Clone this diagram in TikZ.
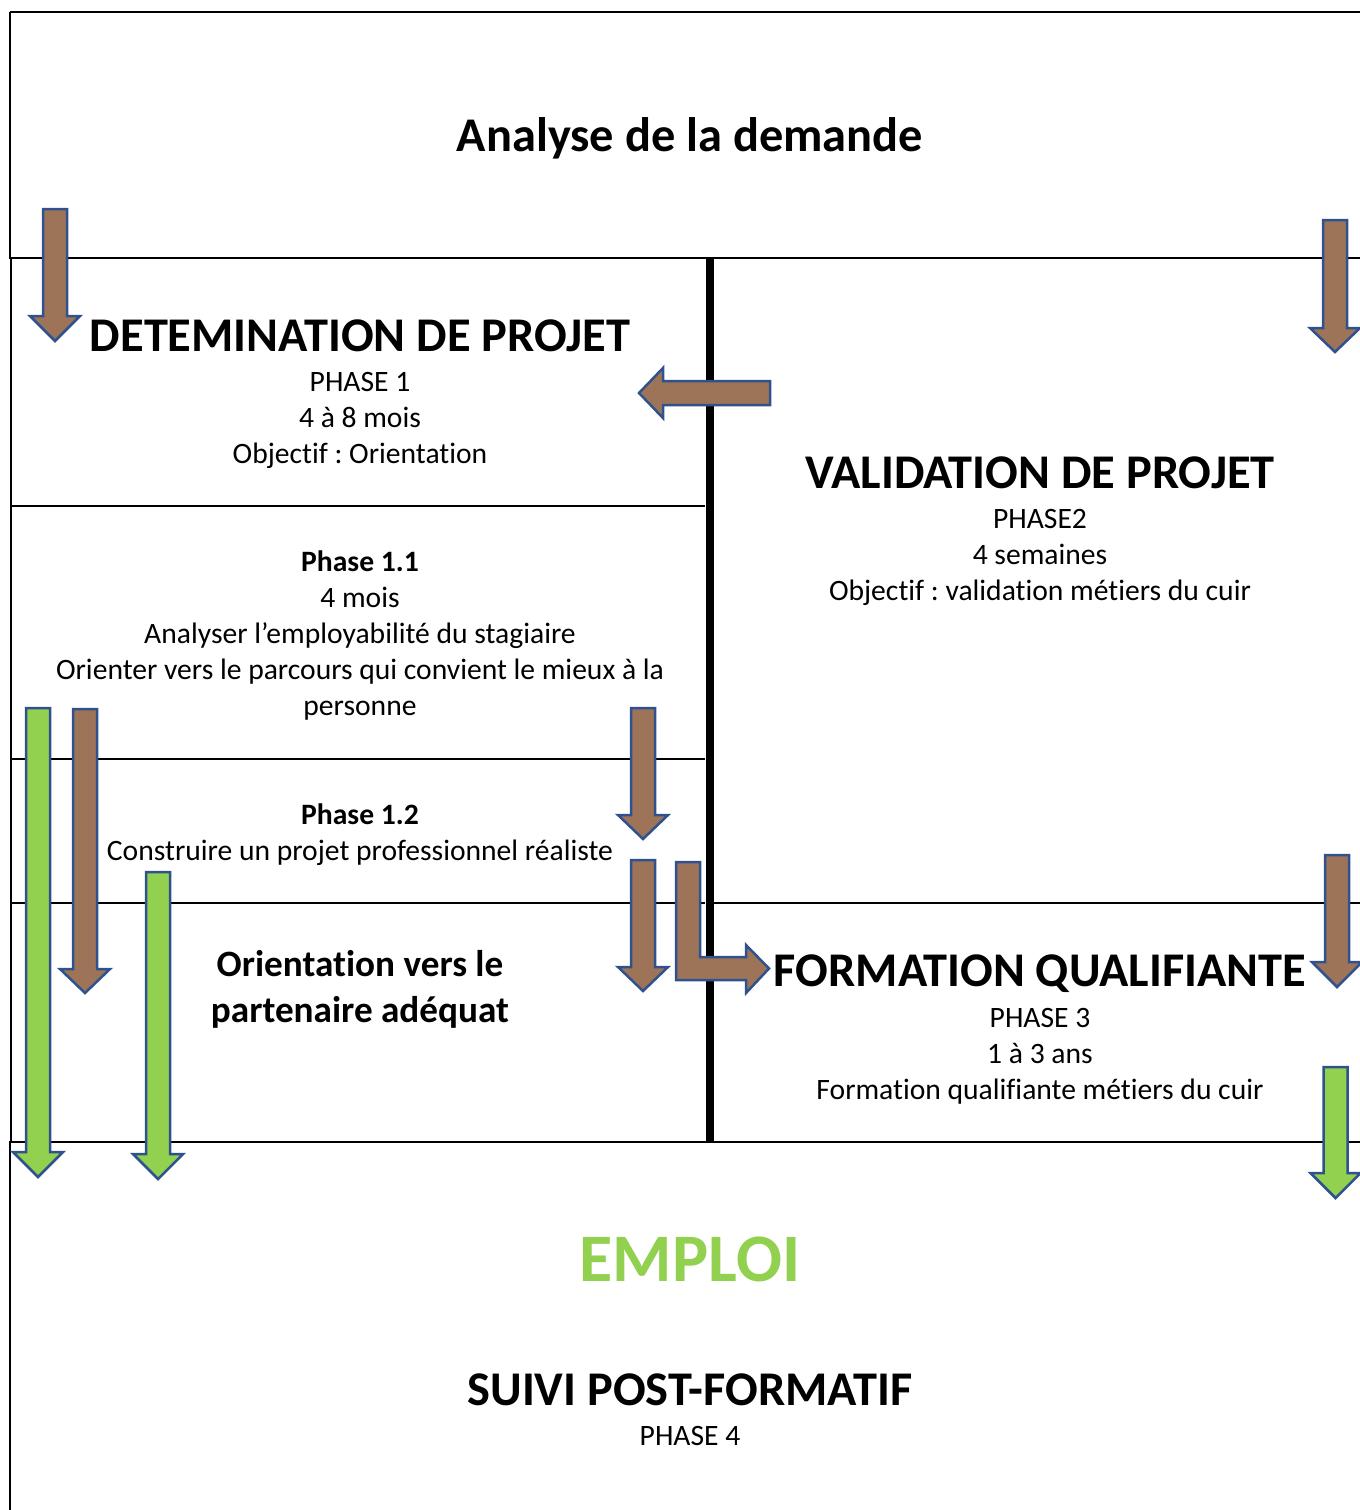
\documentclass[tikz,border=0pt]{standalone}
\usepackage{fontspec}
\setmainfont{Carlito}[Ligatures=NoCommon]
\frenchspacing
\definecolor{brownfill}{RGB}{157,116,87}
\definecolor{blueline}{RGB}{47,82,143}
\definecolor{greenfill}{RGB}{146,208,80}
\newcommand\barrowdown[5]{% cx, top, headbase, tip, style
  \draw[#5] ({#1-12},#2) -- ({#1+12},#2) -- ({#1+12},#3) -- ({#1+25},#3) -- (#1,#4)
    -- ({#1-25},#3) -- ({#1-12},#3) -- cycle;}
\tikzset{
  brownarrow/.style={fill=brownfill, draw=blueline, line width=1.25pt, line join=miter},
  greenarrow/.style={fill=greenfill, draw=blueline, line width=1.25pt, line join=miter},
  thickline/.style={line width=1pt, black},
  thinline/.style={line width=0.6pt, black},
  normaltext/.style={anchor=base, inner sep=0pt, font=\fontsize{14.8}{18}\selectfont},
  boldtext/.style={normaltext, font=\fontsize{14.8}{18}\selectfont\bfseries},
  headtext/.style={anchor=base, inner sep=0pt, font=\fontsize{24.2}{29}\selectfont\bfseries},
  midtext/.style={anchor=base, inner sep=0pt, font=\fontsize{18.6}{23}\selectfont\bfseries},
  bigtext/.style={anchor=base, inner sep=0pt, font=\fontsize{34}{40}\selectfont\bfseries, text=greenfill},
}
\begin{document}
\begin{tikzpicture}[x=0.5pt,y=-0.5pt]
\useasboundingbox (0,0) rectangle (1360,1510);
% frame lines
\draw[thickline] (10,12) -- (1362,12);
\draw[thickline] (10,12) -- (10,258);
\draw[thickline] (9,258) -- (1362,258);
\draw[thinline] (11,258) -- (11,1142);
\draw[thinline] (11,506) -- (705,506);
\draw[thinline] (11,759) -- (705,759);
\draw[thinline] (11,903) -- (705,903);
\draw[thickline] (714,903) -- (1362,903);
\draw[thickline] (9,1142) -- (1362,1142);
\draw[thickline] (10,1142) -- (10,1512);
\draw[line width=4pt, black] (709.5,258) -- (709.5,1142);

% texts
\node[headtext] (analyse) at (690,151) {Analyse de la demande};

\node[headtext] (det) at (360,351) {DETEMINATION DE PROJET};
\node[normaltext] (p1a) at (360,391) {PHASE 1};
\node[normaltext] (p1b) at (360,427) {4 à 8 mois};
\node[normaltext] (p1c) at (360,463) {Objectif : Orientation};

\node[headtext] (val) at (1040,488) {VALIDATION DE PROJET};
\node[normaltext] (p2a) at (1040,528) {PHASE2};
\node[normaltext] (p2b) at (1040,564) {4 semaines};
\node[normaltext] (p2c) at (1040,600) {Objectif : validation métiers du cuir};

\node[boldtext] (p11a) at (360,571) {Phase 1.1};
\node[normaltext] (p11b) at (360,607) {4 mois};
\node[normaltext] (p11c) at (360,643) {Analyser l’employabilité du stagiaire};
\node[normaltext] (p11d) at (360,679) {Orienter vers le parcours qui convient le mieux à la};
\node[normaltext] (p11e) at (360,715) {personne};

\node[boldtext] (p12a) at (360,824) {Phase 1.2};
\node[normaltext] (p12b) at (360,860) {Construire un projet professionnel réaliste};

\node[midtext] (ora) at (360,976) {Orientation vers le};
\node[midtext] (orb) at (360,1022) {partenaire adéquat};

\node[headtext] (form) at (1040,986) {FORMATION QUALIFIANTE};
\node[normaltext] (p3a) at (1040,1027) {PHASE 3};
\node[normaltext] (p3b) at (1040,1063) {1 à 3 ans};
\node[normaltext] (p3c) at (1040,1099) {Formation qualifiante métiers du cuir};

\node[bigtext] (emploi) at (690,1281) {EMPLOI};
\node[headtext] (suivi) at (690,1405) {SUIVI POST-FORMATIF};
\node[normaltext] (p4) at (690,1445) {PHASE 4};

% arrows
\barrowdown{55}{209}{316}{341}{brownarrow}
\barrowdown{1335}{220}{328}{352}{brownarrow}
\draw[brownarrow] (770,381) -- (770,405) -- (663,405) -- (663,418) -- (639,393)
  -- (663,368) -- (663,381) -- cycle;
\barrowdown{38}{708}{1152}{1177}{greenarrow}
\barrowdown{85}{709}{969}{993}{brownarrow}
\barrowdown{643}{708}{815}{839}{brownarrow}
\barrowdown{158}{872}{1154}{1179}{greenarrow}
\barrowdown{643}{860}{967}{991}{brownarrow}
\draw[brownarrow] (676,862) -- (700,862) -- (700,957) -- (746,957) -- (746,945)
  -- (769,968.5) -- (746,993) -- (746,980) -- (676,980) -- cycle;
\barrowdown{1337}{855}{962}{987}{brownarrow}
\barrowdown{1335.5}{1067}{1173}{1198}{greenarrow}
\end{tikzpicture}
\end{document}
